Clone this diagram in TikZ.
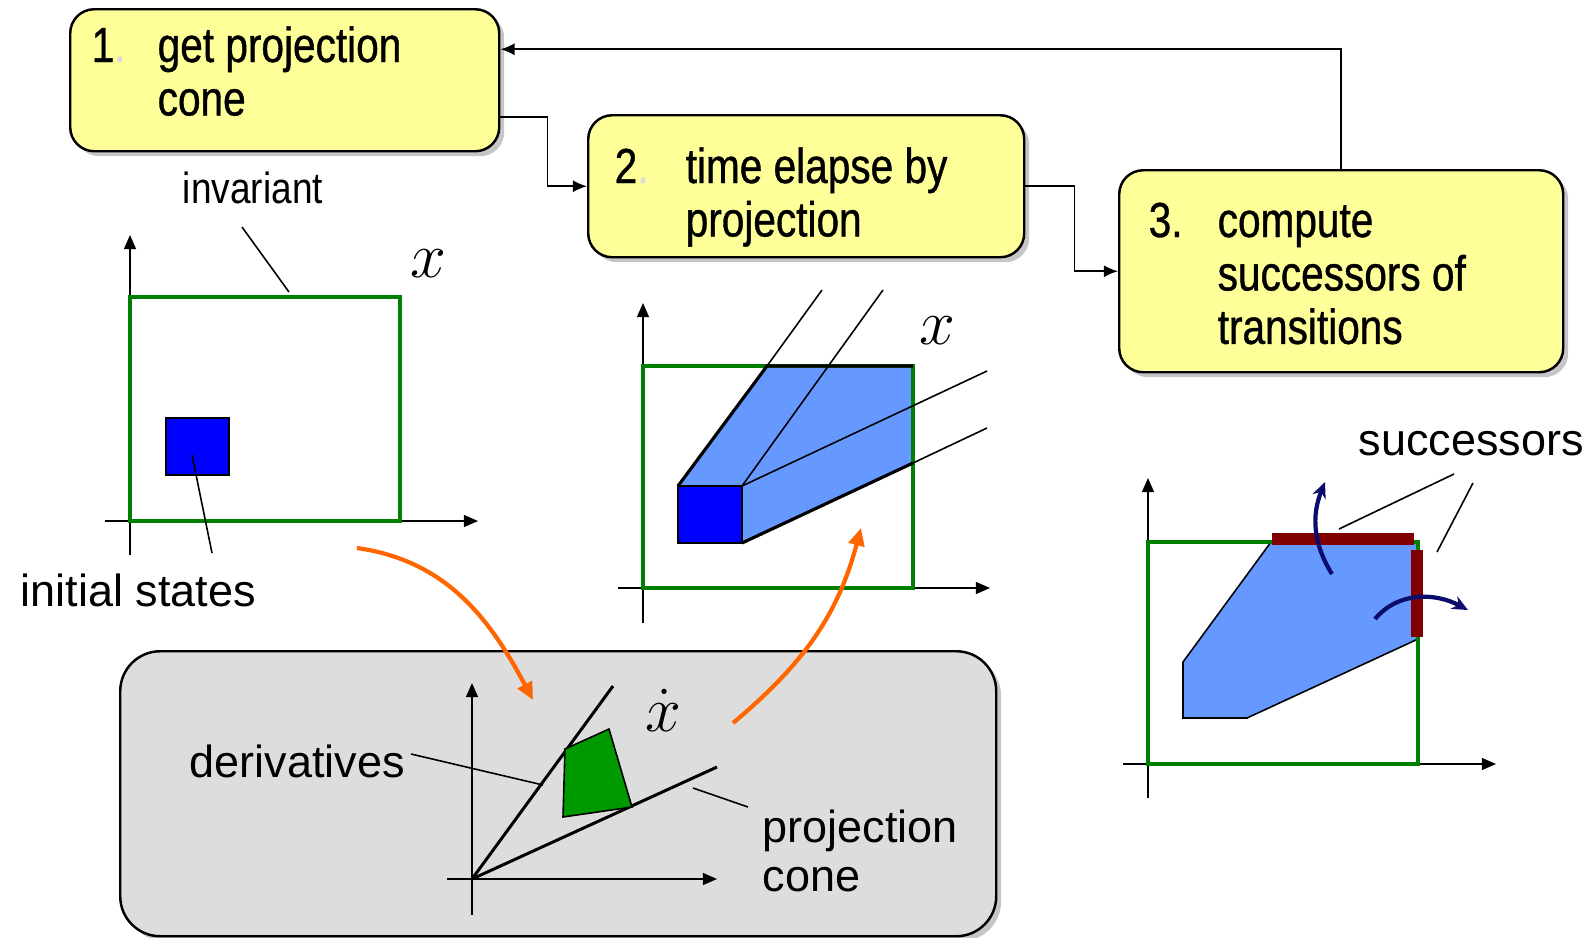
\documentclass[tikz,border=0pt]{standalone}
\usepackage{graphicx}
\usepackage{fontspec}
\setmainfont{Liberation Sans}
\newfontfamily\narrowfont[FakeStretch=0.85]{Liberation Sans}
\newfontfamily\stagefont[FakeStretch=0.825,FakeBold=0.8]{Liberation Sans}
\usetikzlibrary{arrows.meta,shadows}
\definecolor{boxyellow}{RGB}{255,255,153}
\definecolor{panelgray}{RGB}{221,221,221}
\definecolor{invgreen}{RGB}{0,128,0}
\definecolor{derivgreen}{RGB}{0,153,0}
\definecolor{reach}{RGB}{102,153,255}
\definecolor{guardred}{RGB}{128,0,0}
\definecolor{flowor}{RGB}{255,102,0}
\definecolor{transnavy}{RGB}{12,12,110}
\newcommand{\bigvar}[1]{\scalebox{1.06}{$#1$}}

\begin{document}
\begin{tikzpicture}[>={Latex[length=4pt,width=3.4pt]},font=\fontsize{12.8}{14.2}\selectfont]
\tikzstyle{stage}=[draw,line width=0.7pt,rounded corners=0.24cm,fill=boxyellow,anchor=north west,inner sep=0,drop shadow={shadow xshift=0.05cm,shadow yshift=-0.05cm,opacity=0.45}]
\tikzstyle{stagetext}=[inner sep=0,anchor=base west,font=\stagefont\fontsize{14}{15.2}\selectfont]
\tikzstyle{annot}=[inner sep=0,anchor=base west]
\tikzstyle{varname}=[inner sep=0,anchor=base,font=\fontsize{17.28}{20}\selectfont]
\tikzstyle{conn}=[->,line width=0.45pt]
\tikzstyle{axis}=[-{Triangle[length=4pt,width=3.4pt]},line width=0.4pt]
\tikzstyle{inv}=[draw=invgreen,line width=1pt]
\tikzstyle{leader}=[line width=0.45pt]
\tikzstyle{flow}=[draw=flowor,line width=1.2pt,-{Triangle[length=5pt,width=4.5pt]}]
\tikzstyle{trans}=[draw=transnavy,line width=1.2pt,-{Stealth[length=4.5pt,width=4pt]}]
\tikzstyle{guard}=[draw=guardred,line width=3.4pt]
\useasboundingbox (0,0) rectangle (15.92,-9.37);

\node[stage,minimum width=4.29cm,minimum height=1.42cm] (s1) at (0.69,-0.08) {};
\node[stage,minimum width=4.36cm,minimum height=1.42cm] (s2) at (5.87,-1.14) {};
\node[stage,minimum width=4.44cm,minimum height=2.02cm] (s3) at (11.18,-1.69) {};
\node[stagetext] (n1) at (0.91,-0.62) {1\textcolor{black!15}{.}};
\node[stagetext] (t1) at (1.57,-0.62) {\begin{tabular}[t]{@{}l@{}}get projection\\cone\end{tabular}};
\node[stagetext] (n2) at (6.14,-1.83) {2\textcolor{black!15}{.}};
\node[stagetext] (t2) at (6.85,-1.83) {\begin{tabular}[t]{@{}l@{}}time elapse by\\projection\end{tabular}};
\node[stagetext] (n3) at (11.48,-2.37) {3.};
\node[stagetext] (t3) at (12.17,-2.37) {\begin{tabular}[t]{@{}l@{}}compute\\successors of\\transitions\end{tabular}};
\draw[conn] ([yshift=-0.37cm]s1.east) -- ++(0.47,0) |- (s2.west);
\draw[conn] (s2.east) -- ++(0.49,0) |- (s3.west);
\draw[conn] (s3.north) |- ([yshift=0.31cm]s1.east);

\draw[axis] (1.05,-5.21) -- (4.78,-5.21);
\draw[axis] (1.30,-5.55) -- (1.30,-2.35);
\draw[inv] (1.30,-2.97) rectangle (4.00,-5.21);
\draw[fill=blue,line width=0.4pt] (1.66,-4.18) rectangle (2.29,-4.75);
\node[varname] (x1) at (4.28,-2.77) {\bigvar{x}};
\node[annot,anchor=base,font=\narrowfont\fontsize{12.4}{14}\selectfont] (inv) at (2.53,-2.03) {invariant};
\draw[leader] (2.42,-2.27) -- (2.89,-2.92);
\node[annot] (init) at (0.20,-6.06) {initial states};
\draw[leader] (1.92,-4.55) -- (2.12,-5.53);

\fill[reach] (6.78,-4.86) -- (7.67,-3.66) -- (9.13,-3.66) -- (9.13,-4.63) -- (7.42,-5.43) -- cycle;
\draw[axis] (6.18,-5.88) -- (9.90,-5.88);
\draw[axis] (6.43,-6.23) -- (6.43,-3.03);
\draw[inv] (6.43,-3.66) rectangle (9.13,-5.88);
\draw[line width=0.9pt] (6.78,-4.86) -- (7.67,-3.66) -- (9.13,-3.66);
\draw[line width=0.9pt] (7.42,-5.43) -- (9.13,-4.63);
\draw[leader] (7.67,-3.66) -- (8.22,-2.90);
\draw[leader] (7.42,-4.86) -- (8.83,-2.90);
\draw[leader] (7.42,-4.86) -- (9.87,-3.71);
\draw[leader] (9.13,-4.63) -- (9.87,-4.28);
\draw[fill=blue,line width=0.7pt] (6.78,-4.86) rectangle (7.42,-5.43);
\node[varname] (x2) at (9.37,-3.44) {\bigvar{x}};

\fill[reach,draw=black,line width=0.45pt] (12.71,-5.42) -- (14.18,-5.42) -- (14.18,-6.39) -- (12.47,-7.18) -- (11.83,-7.18) -- (11.83,-6.62) -- cycle;
\draw[axis] (11.23,-7.64) -- (14.96,-7.64);
\draw[axis] (11.48,-7.98) -- (11.48,-4.78);
\draw[inv] (11.48,-5.42) rectangle (14.18,-7.64);
\draw[guard] (12.72,-5.39) -- (14.14,-5.39);
\draw[guard] (14.17,-5.50) -- (14.17,-6.37);
\draw[trans] (13.32,-5.74) to[out=122,in=-112] (13.25,-4.82);
\draw[trans] (13.75,-6.19) to[out=50,in=152] (14.68,-6.10);
\node[annot] (succ) at (13.58,-4.55) {successors};
\draw[leader] (14.54,-4.74) -- (13.39,-5.29);
\draw[leader] (14.73,-4.83) -- (14.37,-5.52);

\node[draw,line width=0.7pt,fill=panelgray,rounded corners=0.4cm,minimum width=8.76cm,minimum height=2.85cm,anchor=north west,inner sep=0,drop shadow={shadow xshift=0.05cm,shadow yshift=-0.05cm,opacity=0.45}] (cone) at (1.19,-6.50) {};
\draw[axis] (4.47,-8.79) -- (7.17,-8.79);
\draw[axis] (4.72,-9.15) -- (4.72,-6.83);
\draw[line width=0.85pt] (4.72,-8.79) -- (6.13,-6.86);
\draw[line width=0.85pt] (4.72,-8.79) -- (7.17,-7.67);
\draw[fill=derivgreen,line width=0.45pt] (5.65,-7.49) -- (6.09,-7.29) -- (6.32,-8.07) -- (5.63,-8.17) -- cycle;
\node[varname] (xd) at (6.63,-7.31) {\bigvar{\dot{x}}};
\node[annot] (deriv) at (1.89,-7.77) {derivatives};
\draw[leader] (4.11,-7.54) -- (5.43,-7.85);
\node[annot] (pc) at (7.62,-8.42) {\begin{tabular}[t]{@{}l@{}}projection\\cone\end{tabular}};
\draw[leader] (6.93,-7.88) -- (7.48,-8.07);

\draw[flow] (3.57,-5.48) to[out=-8,in=118] (5.33,-7.00);
\draw[flow] (7.33,-7.23) to[out=40,in=-105] (8.61,-5.28);
\end{tikzpicture}
\end{document}
